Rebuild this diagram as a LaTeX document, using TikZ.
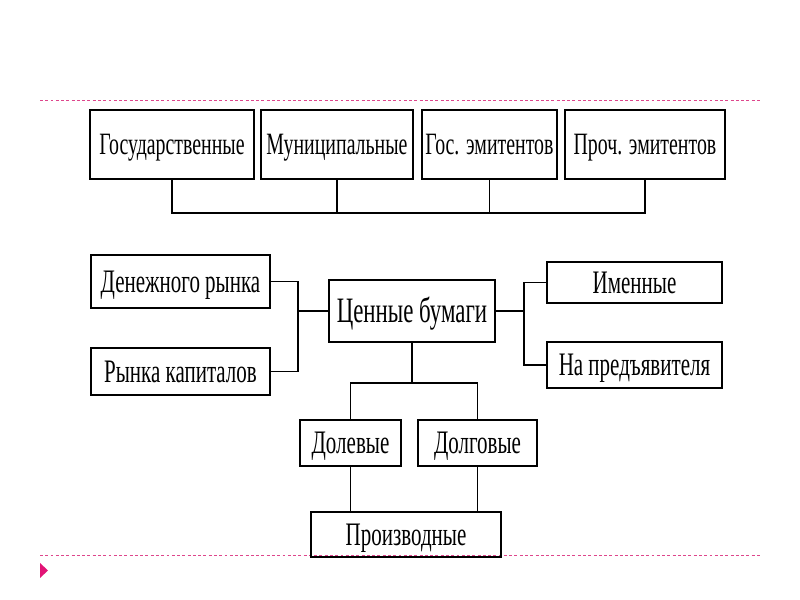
\documentclass[tikz,border=0pt]{standalone}
\usepackage{fontspec}
\setmainfont{Liberation Serif}
\newfontfamily\narrowserif[FakeStretch=0.64]{Liberation Serif}
\definecolor{rulepink}{RGB}{222,70,140}
\definecolor{markpink}{RGB}{226,20,118}

\tikzset{
  blk/.style 2 args={draw, line width=1.4pt, inner sep=0pt,
    minimum width=#1*0.03cm, minimum height=#2*0.03cm,
    text height=21pt, text depth=2.5pt,
    font=\narrowserif\fontsize{28}{30}\selectfont},
  issuer/.style={text height=20pt, font=\narrowserif\fontsize{26.5}{28}\selectfont},
  wire/.style={line width=1.1pt},
  pinkrule/.style={rulepink, line width=0.6pt, dash pattern=on 2.5pt off 2pt}
}

\begin{document}
\begin{tikzpicture}[x=0.03cm,y=-0.03cm]

  \useasboundingbox (0,0) rectangle (800,600);

  % slide rules and marker
  \draw[pinkrule] (40,100) -- (760,100);
  \draw[pinkrule] (40,555) -- (760,555);
  \fill[markpink] (40,563) -- (48,570.5) -- (40,578) -- cycle;

  % issuers
  \node[blk={164}{69}, issuer] (gos)   at (172,144.5)   {Государственные};
  \node[blk={152}{69}, issuer] (mun)   at (337,144.5)   {Муниципальные};
  \node[blk={135}{69}, issuer] (gosem) at (489.5,144.5) {Гос. эмитентов};
  \node[blk={160}{69}, issuer] (proch) at (645,144.5)   {Проч. эмитентов};
  \coordinate (bus) at (0,213);

  \draw[wire] (gos.south) -- (gos.south |- bus) -- (proch.south |- bus) -- (proch.south);
  \draw[wire] (mun.south) -- (mun.south |- bus);
  \draw[wire] (gosem.south) -- (gosem.south |- bus);

  % main block
  \node[blk={166}{62}, text height=22.7pt,
        font=\narrowserif\fontsize{30.5}{32}\selectfont] (cb) at (412,311) {Ценные бумаги};
  \node[blk={179}{53}] (den)  at (180.5,281.5) {Денежного рынка};
  \node[blk={179}{47}] (kap)  at (180.5,371.5) {Рынка капиталов};
  \node[blk={175}{41}] (imen) at (634.5,282.5) {Именные};
  \node[blk={175}{46}] (pred) at (634.5,365)   {На предъявителя};
  \node[blk={101}{46}] (dol)  at (350.5,443)   {Долевые};
  \node[blk={119}{46}] (dolg) at (477.5,443)   {Долговые};
  \node[blk={190}{45}] (proiz) at (406,534.5)  {Производные};

  \coordinate (lj) at (298,311);
  \coordinate (rj) at (524,311);
  \coordinate (dj) at (412,383);

  \draw[wire] (den.east) -- (den.east -| lj) -- (kap.east -| lj) -- (kap.east);
  \draw[wire] (lj) -- (cb.west);
  \draw[wire] (cb.east) -- (rj);
  \draw[wire] (imen.west) -- (imen.west -| rj) -- (pred.west -| rj) -- (pred.west);
  \draw[wire] (cb.south) -- (dj);
  \draw[wire] (dol.north) |- (dj) -| (dolg.north);
  \draw[wire] (dol.south) -- (dol.south |- proiz.north);
  \draw[wire] (dolg.south) -- (dolg.south |- proiz.north);

\end{tikzpicture}
\end{document}
